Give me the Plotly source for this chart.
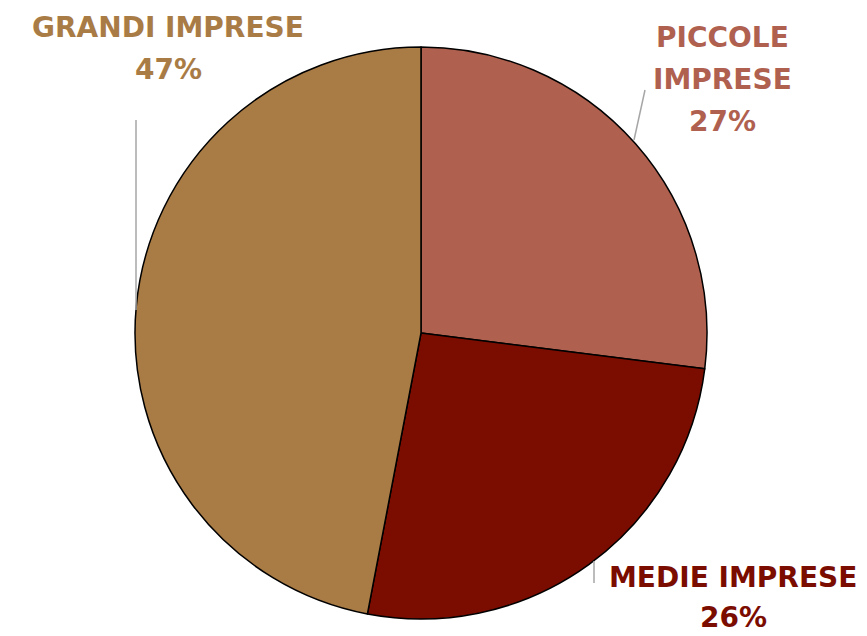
import plotly.graph_objects as go

# quote per dimensione d'impresa
labels = ["PICCOLE<br>IMPRESE", "MEDIE IMPRESE", "GRANDI IMPRESE"]
values = [27, 26, 47]
colors = ["#B0604F", "#7B0C00", "#A97B45"]

W, H = 867, 636
OFF = 8  # page body margin in the screenshot
cx, cy, r = 421, 333, 286


def px(x):
    return (x - OFF) / W


def py(y):
    return 1 - (y - OFF) / H


fig = go.Figure(go.Pie(
    labels=[l.replace("<br>", " ") for l in labels],
    values=values,
    sort=False,
    direction="clockwise",
    rotation=0,
    marker=dict(colors=colors, line=dict(color="#000000", width=1.5)),
    textinfo="none",
    hoverinfo="label+percent",
    domain=dict(x=[px(cx - r), px(cx + r)], y=[py(cy + r), py(cy - r)]),
    showlegend=False,
))

# label positions (pixel centres of the text blocks), line spacing and leader lines
label_pos = [(722, 37, 42), (733, 577, 40), (168, 28, 42)]
leaders = [((645, 90), (634, 140)), ((594, 561), (594, 583)), ((136, 120), (136, 310))]

annotations = []
for lab, val, col, (x, y, gap) in zip(labels, values, colors, label_pos):
    lines = lab.split("<br>") + [f"{val}%"]
    for i, t in enumerate(lines):
        annotations.append(dict(
            text=t, x=px(x), y=py(y + i * gap),
            xref="paper", yref="paper", showarrow=False,
            xanchor="center", yanchor="middle",
            font=dict(family="DejaVu Sans", size=28, color=col, weight="bold"),
        ))

shapes = [dict(type="line", xref="paper", yref="paper",
               x0=px(a[0]), y0=py(a[1]), x1=px(b[0]), y1=py(b[1]),
               line=dict(color="#A6A6A6", width=1.5)) for a, b in leaders]

fig.update_layout(
    width=W, height=H,
    margin=dict(l=0, r=0, t=0, b=0),
    paper_bgcolor="white",
    plot_bgcolor="white",
    annotations=annotations,
    shapes=shapes,
)

fig.write_html("out.html")
